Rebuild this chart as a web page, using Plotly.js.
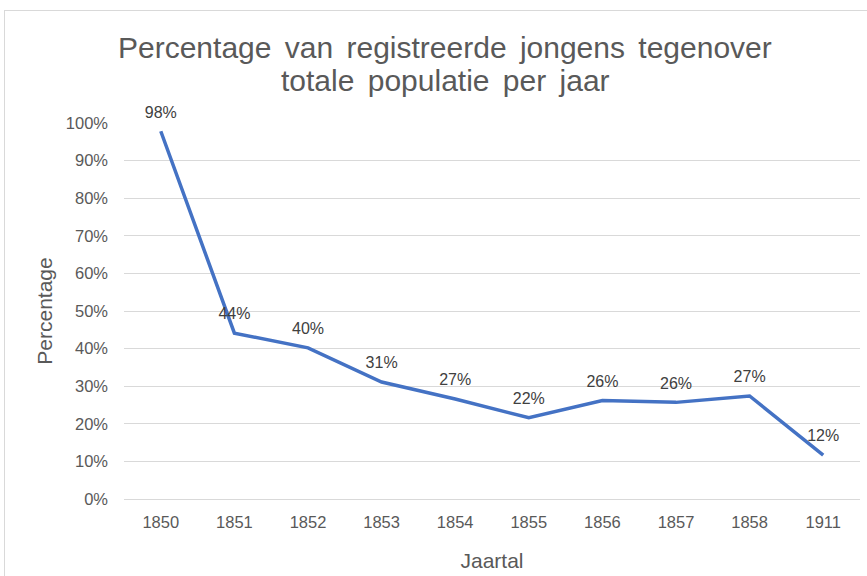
<!DOCTYPE html>
<html>
<head>
<meta charset="utf-8">
<script src="https://cdn.plot.ly/plotly-3.0.1.min.js"></script>
<style>
  html, body { margin: 0; padding: 0; background: #ffffff; overflow: hidden; }
  #wrap { position: relative; width: 867px; height: 576px; }
  #chart { width: 867px; height: 576px; }
  #frame { position: absolute; left: 4px; top: 10px; width: 900px; height: 600px;
           border: 1px solid #d9d9d9; pointer-events: none; box-sizing: border-box; }
  .annotation-text { word-spacing: 5px; }
</style>
</head>
<body>
<div id="wrap">
  <div id="chart"></div>
  <div id="frame"></div>
</div>
<script>
const years = ["1850", "1851", "1852", "1853", "1854", "1855", "1856", "1857", "1858", "1911"];
const percentages = [0.978, 0.441, 0.402, 0.311, 0.266, 0.216, 0.262, 0.257, 0.274, 0.117];
const labels = percentages.map(v => Math.round(v * 100) + "%");
const yTickVals = [0, 0.1, 0.2, 0.3, 0.4, 0.5, 0.6, 0.7, 0.8, 0.9, 1.0];
const yTickText = ["0%", "10%", "20%", "30%", "40%", "50%", "60%", "70%", "80%", "90%", "100%"];
const titleLines = ["Percentage van registreerde jongens tegenover", "totale populatie per jaar"];

const FONT = "Liberation Sans, Arial, sans-serif";

const trace = {
  x: years,
  y: percentages,
  type: "scatter",
  mode: "lines+markers+text",
  line: { color: "#4472C4", width: 3.5 },
  marker: { size: 14, color: "rgba(0,0,0,0)" },
  text: labels,
  textposition: "top center",
  textfont: { family: FONT, size: 16, color: "#404040" },
  cliponaxis: false,
  hoverinfo: "x+y"
};

const titleAnnotations = titleLines.map((t, i) => ({
  text: t,
  xref: "paper",
  yref: "paper",
  x: 0.4368,
  y: i === 0 ? 1.2021 : 1.1143,
  xanchor: "center",
  yanchor: "middle",
  showarrow: false,
  font: { family: FONT, size: 30, color: "#595959" }
}));

const layout = {
  width: 867,
  height: 576,
  paper_bgcolor: "#ffffff",
  plot_bgcolor: "#ffffff",
  margin: { l: 124, r: 7, t: 123, b: 77 },
  showlegend: false,
  annotations: titleAnnotations,
  xaxis: {
    type: "category",
    range: [-0.5, 9.5],
    showgrid: false,
    zeroline: false,
    showline: false,
    ticks: "",
    tickfont: { family: FONT, size: 16.5, color: "#595959" },
    ticklabelstandoff: 11,
    title: {
      text: "Jaartal",
      font: { family: FONT, size: 21, color: "#595959" },
      standoff: 23
    },
    fixedrange: true
  },
  yaxis: {
    range: [0, 1.0],
    tickvals: yTickVals,
    ticktext: yTickText,
    showgrid: true,
    gridcolor: "#d9d9d9",
    gridwidth: 1,
    zeroline: true,
    zerolinecolor: "#d9d9d9",
    zerolinewidth: 1,
    showline: false,
    ticks: "",
    tickfont: { family: FONT, size: 16.5, color: "#595959" },
    ticklabelstandoff: 15,
    title: {
      text: "Percentage",
      font: { family: FONT, size: 21, color: "#595959" },
      standoff: 7
    },
    fixedrange: true
  }
};

Plotly.newPlot("chart", [trace], layout, { displayModeBar: false, staticPlot: true });
</script>
</body>
</html>
